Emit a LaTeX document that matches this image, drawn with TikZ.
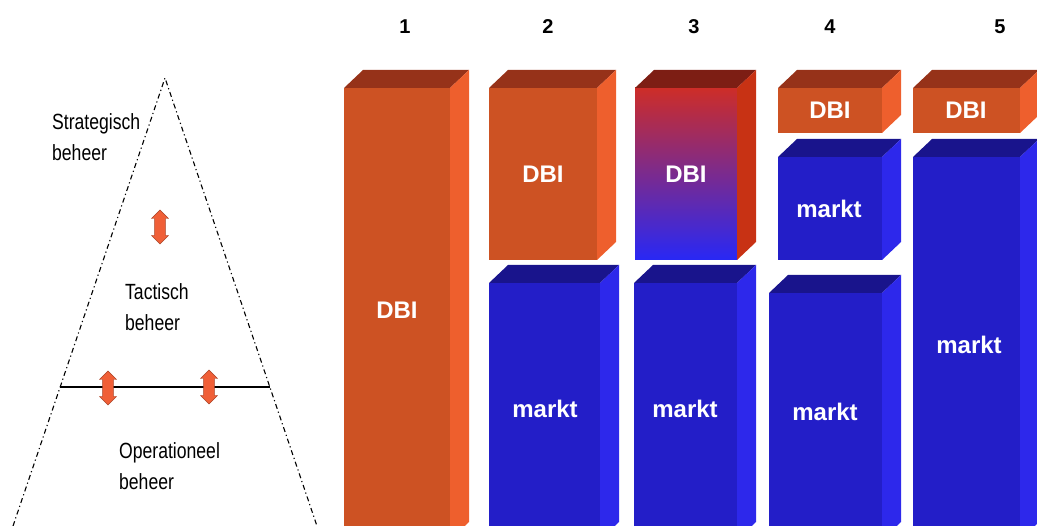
\documentclass[tikz,border=0pt]{standalone}
\usepackage{fontspec}
\setmainfont{Liberation Sans}
\usetikzlibrary{shapes.arrows}

\definecolor{dbiV}{RGB}{205,82,35}
\definecolor{dbiB}{RGB}{150,50,25}
\definecolor{dbiZ}{RGB}{238,95,45}
\definecolor{marktV}{RGB}{35,30,200}
\definecolor{marktB}{RGB}{25,20,140}
\definecolor{marktZ}{RGB}{45,40,235}
\definecolor{pijlkleur}{RGB}{240,95,55}
\definecolor{mengBoven}{RGB}{205,45,40}
\definecolor{mengMidden}{RGB}{165,40,195}
\definecolor{mengOnder}{RGB}{40,40,245}
\definecolor{mengB}{RGB}{125,30,20}
\definecolor{mengZ}{RGB}{200,50,20}

\begin{document}
\begin{tikzpicture}[
    x=1pt, y=-1pt,
    nummer/.style={font=\fontsize{20}{24}\selectfont\bfseries},
    bloktekst/.style={text=white, font=\fontsize{24}{28}\selectfont\bfseries},
    niveau/.style={align=left, anchor=west, inner sep=0pt, xscale=0.8,
                   font=\fontsize{22}{31}\selectfont},
    pijl/.style={shape=double arrow, rotate=90, fill=pijlkleur, draw=pijlkleur!70!black,
                 minimum height=34pt, minimum width=17pt, double arrow head extend=3pt,
                 inner xsep=0pt, inner ysep=5pt},
    rand/.style={line width=1.1pt, dash pattern=on 5pt off 3pt on 1.2pt off 3pt}
]
\clip (0,0) rectangle (1037,526);

% piramide
\coordinate (top) at (165,78);
\coordinate (lo) at (13,526);
\coordinate (ro) at (317,526);
\coordinate (sl) at (60,387);
\coordinate (sr) at (270,387);
\draw[rand] (lo) -- (top) -- (ro);
\draw[line width=1.1pt] (sl) -- (sr);

\node[niveau] (strat) at (52,137) {Strategisch\\beheer};
\node[niveau] (tact) at (125,307) {Tactisch\\beheer};
\node[niveau] (oper) at (119,466) {Operationeel\\beheer};

\node[pijl] (p1) at (160,227) {};
\node[pijl] (p2) at (108,388) {};
\node[pijl] (p3) at (209,387) {};

% blokken
\foreach \xa/\ya/\xb/\yb/\kl in {344/88/450/540/dbi, 489/88/597/260/dbi,
    489/283/600/540/markt, 634/283/737/540/markt, 778/88/882/133/dbi,
    778/157/882/260/markt, 769/293/882/540/markt, 913/88/1020/133/dbi,
    913/157/1020/540/markt}{
  \fill[fill=\kl V] (\xa,\ya) rectangle (\xb,\yb);
  \fill[fill=\kl B] (\xa,\ya) -- (\xa+19,\ya-18) -- (\xb+19,\ya-18) -- (\xb,\ya) -- cycle;
  \fill[fill=\kl Z] (\xb,\ya) -- (\xb+19,\ya-18) -- (\xb+19,\yb-18) -- (\xb,\yb) -- cycle;
}
% blok 3 met overgang
\shade[top color=mengBoven, middle color=mengMidden, bottom color=mengOnder]
    (635,88) rectangle (737,260);
\fill[mengB] (635,88) -- (654,70) -- (756,70) -- (737,88) -- cycle;
\fill[mengZ] (737,88) -- (756,70) -- (756,242) -- (737,260) -- cycle;

\node[nummer] (n1) at (405,27) {1};
\node[nummer] (n2) at (548,27) {2};
\node[nummer] (n3) at (694,27) {3};
\node[nummer] (n4) at (830,27) {4};
\node[nummer] (n5) at (1000,27) {5};

\node[bloktekst] (dbi1) at (397,310) {DBI};
\node[bloktekst] (dbi2) at (543,174) {DBI};
\node[bloktekst] (dbi3) at (686,174) {DBI};
\node[bloktekst] (dbi4) at (830,110) {DBI};
\node[bloktekst] (dbi5) at (966,110) {DBI};
\node[bloktekst] (markt2) at (545,409) {markt};
\node[bloktekst] (markt3) at (685,409) {markt};
\node[bloktekst] (markt4a) at (829,209) {markt};
\node[bloktekst] (markt4b) at (825,412) {markt};
\node[bloktekst] (markt5) at (969,345) {markt};
\end{tikzpicture}
\end{document}
